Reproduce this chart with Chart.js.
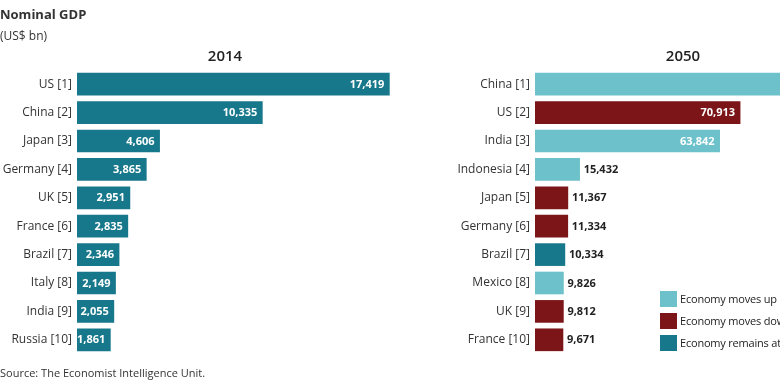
<!DOCTYPE html>
<html><head><meta charset="utf-8">
<script src="https://cdn.jsdelivr.net/npm/chart.js@4.4.1/dist/chart.umd.min.js"></script>
<style>
html,body{margin:0;padding:0;background:#fff;}
body{width:780px;height:390px;overflow:hidden;position:relative;font-family:"Open Sans",sans-serif;color:#333;}
canvas{position:absolute;top:0;}
#c1{left:0;}
#c2{left:455px;}
.txt{position:absolute;white-space:nowrap;z-index:2;}
#head{left:0;top:5px;font-weight:bold;font-size:13px;color:#333;}
#unit{left:0;top:27px;font-size:12px;color:#333;}
#source{left:0;top:365px;font-size:11px;color:#333;}
#legend{position:absolute;left:660px;top:291px;z-index:2;}
.lrow{height:22px;position:relative;white-space:nowrap;font-size:11px;letter-spacing:-0.2px;color:#222;}
.lsq{position:absolute;left:0;top:0;width:17px;height:16px;}
.ltx{position:absolute;left:20px;top:0px;}
</style>
</head><body>
<div class="txt" id="head">Nominal GDP</div>
<div class="txt" id="unit">(US$ bn)</div>
<canvas id="c1" width="450" height="390"></canvas>
<canvas id="c2" width="456" height="390"></canvas>
<div id="legend"></div>
<div class="txt" id="source">Source: The Economist Intelligence Unit.</div>
<script>
// ---- data ----
const countries2014 = ['US','China','Japan','Germany','UK','France','Brazil','Italy','India','Russia'];
const gdp2014 = [17419,10335,4606,3865,2951,2835,2346,2149,2055,1861];
const countries2050 = ['China','US','India','Indonesia','Japan','Germany','Brazil','Mexico','UK','France'];
const gdp2050 = [105916,70913,63842,15432,11367,11334,10334,9826,9812,9671];
const move2050 = ['up','down','up','up','down','down','same','up','down','down'];
const legendKeys = ['up','down','same'];
const legendLabels = ['Economy moves up','Economy moves down','Economy remains at same rank'];

// ---- styles ----
const COLORS = {up:'#6cc1ca', down:'#7b1518', same:'#18788b'};

const valueLabels = {
  id:'valueLabels',
  afterDatasetsDraw(chart, args, opts){
    const ctx = chart.ctx;
    const meta = chart.getDatasetMeta(0);
    const data = chart.data.datasets[0].data;
    ctx.save();
    ctx.font = 'bold 11px "Open Sans"';
    ctx.textBaseline = 'middle';
    meta.data.forEach((bar,i)=>{
      const len = bar.x - bar.base;
      const txt = data[i].toLocaleString('en-US');
      if (len >= opts.insideMin) {
        ctx.fillStyle = '#fff'; ctx.textAlign = 'right';
        ctx.fillText(txt, bar.x - 5, bar.y + 0.5);
      } else {
        ctx.fillStyle = '#222'; ctx.textAlign = 'left';
        ctx.fillText(txt, bar.x + 4, bar.y + 0.5);
      }
    });
    ctx.restore();
  }
};

function makeChart(id, names, values, colors, title, xMax, axisW, insideMin){
  return new Chart(document.getElementById(id), {
    type:'bar',
    data:{
      labels: names.map((n,i)=> n + ' [' + (i+1) + ']'),
      datasets:[{data: values, backgroundColor: colors, borderWidth:0, barThickness:22}]
    },
    options:{
      indexAxis:'y',
      responsive:false,
      animation:false,
      layout:{padding:{top:0,bottom:36,left:0,right:0}},
      scales:{
        x:{display:false, min:0, max:xMax},
        y:{
          grid:{display:false, drawTicks:false},
          border:{display:false},
          ticks:{padding:5, color:'#333', font:{family:'"Open Sans"', size:12}},
          afterFit(s){ s.width = axisW; }
        }
      },
      plugins:{
        legend:{display:false},
        tooltip:{enabled:false},
        title:{display:true, text:title, color:'#222', font:{family:'"Open Sans"', size:15, weight:'600'}, padding:{top:48, bottom:4}},
        valueLabels:{insideMin}
      }
    },
    plugins:[valueLabels]
  });
}

makeChart('c1', countries2014, gdp2014, countries2014.map(()=>COLORS.same), '2014', 20800, 77, 0);
makeChart('c2', countries2050, gdp2050, move2050.map(m=>COLORS[m]), '2050', 130000, 80, 60);

const lg = document.getElementById('legend');
legendKeys.forEach((k,i)=>{
  const row = document.createElement('div'); row.className='lrow';
  const sq = document.createElement('div'); sq.className='lsq'; sq.style.background = COLORS[k];
  const tx = document.createElement('div'); tx.className='ltx'; tx.textContent = legendLabels[i];
  row.appendChild(sq); row.appendChild(tx); lg.appendChild(row);
});
</script>
</body></html>
